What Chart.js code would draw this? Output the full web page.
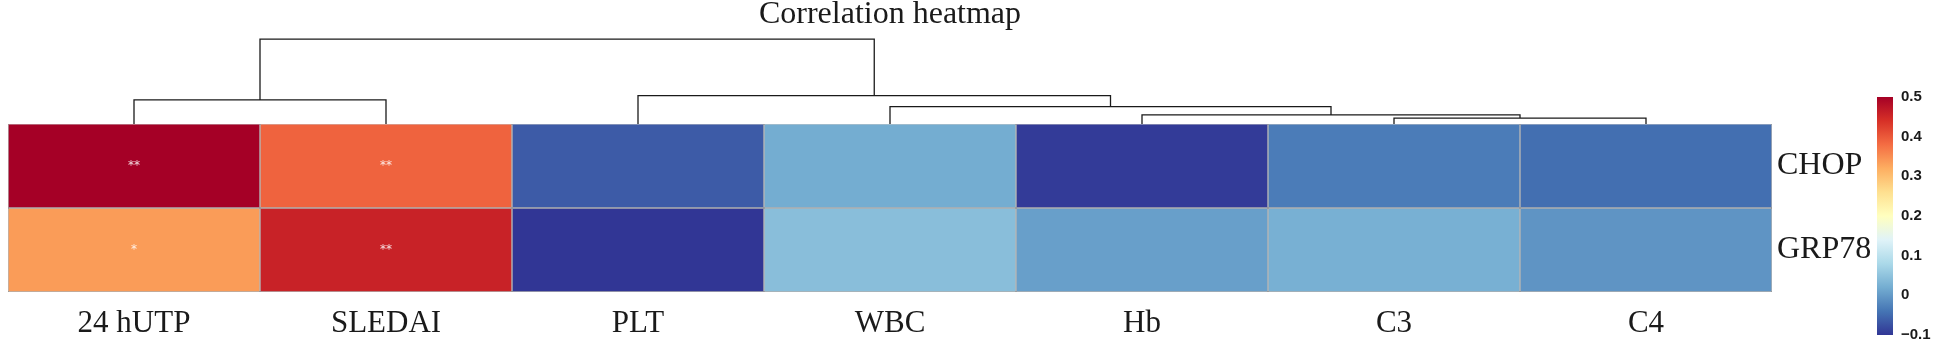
<!DOCTYPE html>
<html><head><meta charset="utf-8">
<script src="https://cdn.jsdelivr.net/npm/chart.js@4.4.1/dist/chart.umd.min.js"></script>
<style>
html,body{margin:0;padding:0;background:#fff;}
#wrap{position:relative;width:1938px;height:352px;overflow:hidden;}
#main{position:absolute;left:0;top:0;}
#cbar{position:absolute;left:1870px;top:0;}
</style></head><body>
<div id="wrap"><canvas id="main" width="1938" height="352"></canvas><canvas id="cbar" width="68" height="352"></canvas></div>
<script>
// ---- data ----
const categories = ['24 hUTP','SLEDAI','PLT','WBC','Hb','C3','C4'];
const rowLabels = ['CHOP','GRP78'];
const chopValues  = [0.503, 0.39, -0.065, 0.02, -0.095, -0.032, -0.046];
const grp78Values = [0.337, 0.458, -0.1, 0.043, 0.005, 0.024, -0.007];
const chopSig  = ['**','**','','','','',''];
const grp78Sig = ['*','**','','','','',''];
// hclust-style merges (negative = leaf, 1-based; positive = earlier merge)
const dendroMerges  = [[-6,-7],[-5,1],[-4,2],[-3,3],[-1,-2],[5,4]];
const dendroHeights = [0.068, 0.107, 0.206, 0.337, 0.286, 1.008];
const colorTicks = [-0.1, 0, 0.1, 0.2, 0.3, 0.4, 0.5];
const colorMin = -0.1, colorMax = 0.5;
const palette = ['#313695','#4575B4','#74ADD1','#ABD9E9','#E0F3F8','#FFFFBF','#FEE090','#FDAE61','#F46D43','#D73027','#A50026'];

const rows = [chopValues, grp78Values];
const sigs = [chopSig, grp78Sig];
const SERIF = '"Liberation Serif", "Times New Roman", serif';

function hex2rgb(h){ return [parseInt(h.slice(1,3),16), parseInt(h.slice(3,5),16), parseInt(h.slice(5,7),16)]; }
function colorFor(v){
  let t = (v - colorMin) / (colorMax - colorMin);
  t = Math.max(0, Math.min(1, t));
  const p = t * (palette.length - 1);
  const i = Math.min(palette.length - 2, Math.floor(p));
  const f = p - i;
  const a = hex2rgb(palette[i]), b = hex2rgb(palette[i+1]);
  const c = a.map((x, k) => Math.round(x + (b[k] - x) * f));
  return 'rgb(' + c.join(',') + ')';
}

function buildDendro(){
  const nodes = [];
  const pts = [];
  const base = rows.length;
  const nodeOf = id => id < 0 ? {x: -id - 1, h: 0} : nodes[id - 1];
  dendroMerges.forEach((m, i) => {
    const a = nodeOf(m[0]), b = nodeOf(m[1]), h = dendroHeights[i];
    pts.push({x: a.x, y: base + a.h}, {x: a.x, y: base + h}, {x: b.x, y: base + h}, {x: b.x, y: base + b.h}, {x: b.x, y: null});
    nodes.push({x: (a.x + b.x) / 2, h: h});
  });
  return pts;
}

const datasets = rows.map((vals, r) => ({
  type: 'bar',
  label: rowLabels[r],
  data: vals.map(() => [rows.length - 1 - r, rows.length - r]),
  backgroundColor: vals.map(colorFor),
  borderColor: '#959595',
  borderWidth: 0.7,
  borderSkipped: false,
  barPercentage: 1,
  categoryPercentage: 1,
  grouped: false,
  inflateAmount: 0,
  xAxisID: 'x',
  yAxisID: 'y',
  order: 2
}));
datasets.push({
  type: 'scatter',
  label: 'dendrogram',
  data: buildDendro(),
  showLine: true,
  spanGaps: false,
  pointRadius: 0,
  borderColor: '#1a1a1a',
  borderWidth: 1.3,
  tension: 0,
  xAxisID: 'xd',
  yAxisID: 'y',
  order: 1
});

const starPlugin = {
  id: 'stars',
  afterDatasetsDraw(chart){
    const {ctx, scales: {x, y}} = chart;
    ctx.save();
    ctx.fillStyle = 'rgba(255,255,255,0.85)';
    ctx.font = '12px "DejaVu Sans", sans-serif';
    ctx.textAlign = 'center';
    ctx.textBaseline = 'middle';
    sigs.forEach((row, r) => row.forEach((s, c) => {
      if (s) ctx.fillText(s, x.getPixelForValue(c), y.getPixelForValue(rows.length - r - 0.5));
    }));
    ctx.restore();
  }
};

new Chart(document.getElementById('main'), {
  type: 'bar',
  data: { labels: categories, datasets: datasets },
  plugins: [starPlugin],
  options: {
    responsive: false, animation: false, devicePixelRatio: 1, events: [],
    layout: { padding: { left: 8, top: 0, right: 0, bottom: 0 } },
    plugins: {
      legend: { display: false },
      tooltip: { enabled: false },
      title: {
        display: true, text: 'Correlation heatmap', fullSize: false, color: '#1a1a1a',
        font: { family: SERIF, size: 32, weight: 'normal', lineHeight: 0.9 },
        padding: { top: 0, bottom: 6 }
      }
    },
    scales: {
      x: {
        type: 'category', position: 'bottom', offset: true,
        grid: { display: false, drawTicks: false }, border: { display: false },
        ticks: { color: '#1a1a1a', font: { family: SERIF, size: 31, lineHeight: 1.2 }, padding: 13, maxRotation: 0, autoSkip: false },
        afterFit(s){ s.height = 60; }
      },
      xd: { type: 'linear', display: false, offset: false, min: -0.5, max: categories.length - 0.5 },
      y: {
        type: 'linear', position: 'right', min: 0, max: 3.06,
        grid: { display: false, drawTicks: false }, border: { display: false },
        afterBuildTicks(s){ s.ticks = rowLabels.map((_, r) => ({ value: rowLabels.length - r - 0.5 })); },
        ticks: { callback: (v, i) => rowLabels[i], color: '#1a1a1a', font: { family: SERIF, size: 32 }, padding: 5 },
        afterFit(s){ s.width = 166; }
      }
    }
  }
});

function gradientFill(ctx){
  const ch = ctx.chart;
  if (!ch.chartArea) return palette[0];
  const ys = ch.scales.y;
  const g = ch.ctx.createLinearGradient(0, ys.getPixelForValue(colorMin), 0, ys.getPixelForValue(colorMax));
  palette.forEach((c, i) => g.addColorStop(i / (palette.length - 1), c));
  return g;
}
function fmtTick(v){
  if (Math.abs(v) < 1e-9) return '0';
  return (v < 0 ? '\u2212' : '') + Math.abs(v).toFixed(1);
}

new Chart(document.getElementById('cbar'), {
  type: 'bar',
  data: { labels: ['scale'], datasets: [{ data: [[colorMin, colorMax]], backgroundColor: gradientFill, borderWidth: 0, barPercentage: 1, categoryPercentage: 1, inflateAmount: 0 }] },
  options: {
    responsive: false, animation: false, devicePixelRatio: 1, events: [],
    layout: { padding: { left: 7, top: 97, bottom: 14, right: 0 } },
    plugins: { legend: { display: false }, tooltip: { enabled: false } },
    scales: {
      x: { display: false },
      y: {
        position: 'right', min: colorMin, max: colorMax,
        grid: { display: false, drawTicks: false }, border: { display: false },
        afterBuildTicks(s){ s.ticks = colorTicks.map(v => ({ value: v })); },
        ticks: { callback: (v) => fmtTick(v), color: '#1a1a1a', font: { family: '"Liberation Sans", Arial, sans-serif', size: 15, weight: 'bold' }, padding: 8 },
        afterFit(s){ s.width = 45; }
      }
    }
  }
});
</script>
</body></html>
